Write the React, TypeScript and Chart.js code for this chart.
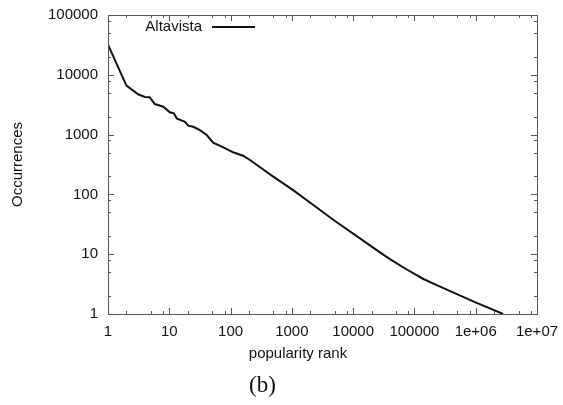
import React, { useEffect, useRef } from "react";
import { Chart, registerables } from "chart.js";

Chart.register(...registerables);

const ranks = [1, 2, 3.1, 4, 4.8, 5.8, 8, 10.2, 11.9, 13.2, 18, 20.4, 24.6, 31.6, 40.8, 52, 76, 110, 160, 207, 303, 497, 1050, 2240, 4800, 21200, 39800, 74000, 140000, 262000, 930000, 2800000];
const occurrences = [32000, 6580, 4720, 4260, 4200, 3240, 2930, 2360, 2270, 1870, 1640, 1410, 1350, 1190, 985, 733, 613, 506, 444, 376, 284, 198, 118, 66.5, 37.3, 12.9, 8.3, 5.6, 3.85, 2.86, 1.61, 1.0];

const xTickValues = [1, 10, 100, 1000, 10000, 100000, 1000000, 10000000];
const xTickLabels = ["1", "10", "100", "1000", "10000", "100000", "1e+06", "1e+07"];
const yTickValues = [1, 10, 100, 1000, 10000, 100000];
const yTickLabels = ["1", "10", "100", "1000", "10000", "100000"];
const minorFactors = [2, 5, 8];

const seriesLabel = "Altavista";
const xTitle = "popularity rank";
const yTitle = "Occurrences";
const caption = "(b)";

const FONT = "'Liberation Sans', Arial, Helvetica, sans-serif";

const framePlugin = {
  id: "gnuplotFrame",
  afterDraw(chart: any) {
    const ctx = chart.ctx;
    const { left, right, top, bottom } = chart.chartArea;
    const xs = chart.scales.x;
    const ys = chart.scales.y;
    ctx.save();
    ctx.strokeStyle = "#555";
    ctx.lineWidth = 1;
    ctx.strokeRect(Math.round(left) + 0.5, Math.round(top) + 0.5, Math.round(right - left), Math.round(bottom - top));
    ctx.beginPath();
    const major = 6;
    const minor = 3;
    for (let i = 0; i < xTickValues.length; i++) {
      const v = xTickValues[i];
      const px = Math.round(xs.getPixelForValue(v)) + 0.5;
      ctx.moveTo(px, bottom); ctx.lineTo(px, bottom - major);
      ctx.moveTo(px, top); ctx.lineTo(px, top + major);
      if (i < xTickValues.length - 1) {
        for (const f of minorFactors) {
          const mx = Math.round(xs.getPixelForValue(v * f)) + 0.5;
          ctx.moveTo(mx, bottom); ctx.lineTo(mx, bottom - minor);
          ctx.moveTo(mx, top); ctx.lineTo(mx, top + minor);
        }
      }
    }
    for (let i = 0; i < yTickValues.length; i++) {
      const v = yTickValues[i];
      const py = Math.round(ys.getPixelForValue(v)) + 0.5;
      ctx.moveTo(left, py); ctx.lineTo(left + major, py);
      ctx.moveTo(right, py); ctx.lineTo(right - major, py);
      if (i < yTickValues.length - 1) {
        for (const f of minorFactors) {
          const my = Math.round(ys.getPixelForValue(v * f)) + 0.5;
          ctx.moveTo(left, my); ctx.lineTo(left + minor, my);
          ctx.moveTo(right, my); ctx.lineTo(right - minor, my);
        }
      }
    }
    ctx.stroke();

    // legend
    ctx.fillStyle = "#111";
    ctx.font = "15px " + FONT;
    ctx.textAlign = "right";
    ctx.textBaseline = "middle";
    ctx.fillText(seriesLabel, 202, 27);
    ctx.strokeStyle = "#111";
    ctx.lineWidth = 2;
    ctx.beginPath();
    ctx.moveTo(212, 27);
    ctx.lineTo(255, 27);
    ctx.stroke();

    // axis titles
    ctx.textAlign = "center";
    ctx.fillText(xTitle, 298, 354);
    ctx.save();
    ctx.translate(18, (top + bottom) / 2);
    ctx.rotate(-Math.PI / 2);
    ctx.fillText(yTitle, 0, 0);
    ctx.restore();

    ctx.font = "23px 'Liberation Serif', 'DejaVu Serif', serif";
    ctx.fillText(caption, 262.5, 386);
    ctx.restore();
  },
};

export default function App() {
  const ref = useRef<HTMLCanvasElement | null>(null);
  useEffect(() => {
    if (!ref.current) return;
    const chart = new Chart(ref.current, {
      type: "line",
      data: {
        datasets: [
          {
            label: seriesLabel,
            data: ranks.map((r, i) => ({ x: r, y: occurrences[i] })),
            borderColor: "#111",
            borderWidth: 2,
            pointRadius: 0,
            tension: 0,
            fill: false,
          },
        ],
      },
      options: {
        animation: false,
        responsive: false,
        layout: { padding: { top: 15, right: 26, left: 0, bottom: 0 } },
        plugins: { legend: { display: false }, tooltip: { enabled: false } },
        scales: {
          x: {
            type: "logarithmic",
            min: 1,
            max: 10000000,
            grid: { display: false },
            border: { display: false },
            afterBuildTicks: (s: any) => {
              s.ticks = xTickValues.map((v) => ({ value: v }));
            },
            afterFit: (s: any) => {
              s.height = 91;
            },
            ticks: {
              padding: 1,
              color: "#111",
              font: { family: FONT, size: 15 },
              maxRotation: 0,
              autoSkip: false,
              callback: (v: any) => {
                const i = xTickValues.indexOf(Number(v));
                return i >= 0 ? xTickLabels[i] : "";
              },
            },
          },
          y: {
            type: "logarithmic",
            min: 1,
            max: 100000,
            grid: { display: false },
            border: { display: false },
            afterBuildTicks: (s: any) => {
              s.ticks = yTickValues.map((v) => ({ value: v }));
            },
            afterFit: (s: any) => {
              s.width = 108;
            },
            ticks: {
              padding: 2,
              color: "#111",
              font: { family: FONT, size: 15 },
              autoSkip: false,
              callback: (v: any) => {
                const i = yTickValues.indexOf(Number(v));
                return i >= 0 ? yTickLabels[i] : "";
              },
            },
          },
        },
      },
      plugins: [framePlugin],
    });
    return () => chart.destroy();
  }, []);
  return (
    <div style={{ position: "absolute", left: 0, top: 0, width: 563, height: 405, background: "#fff" }}>
      <canvas ref={ref} width={563} height={405} style={{ display: "block" }} />
    </div>
  );
}
